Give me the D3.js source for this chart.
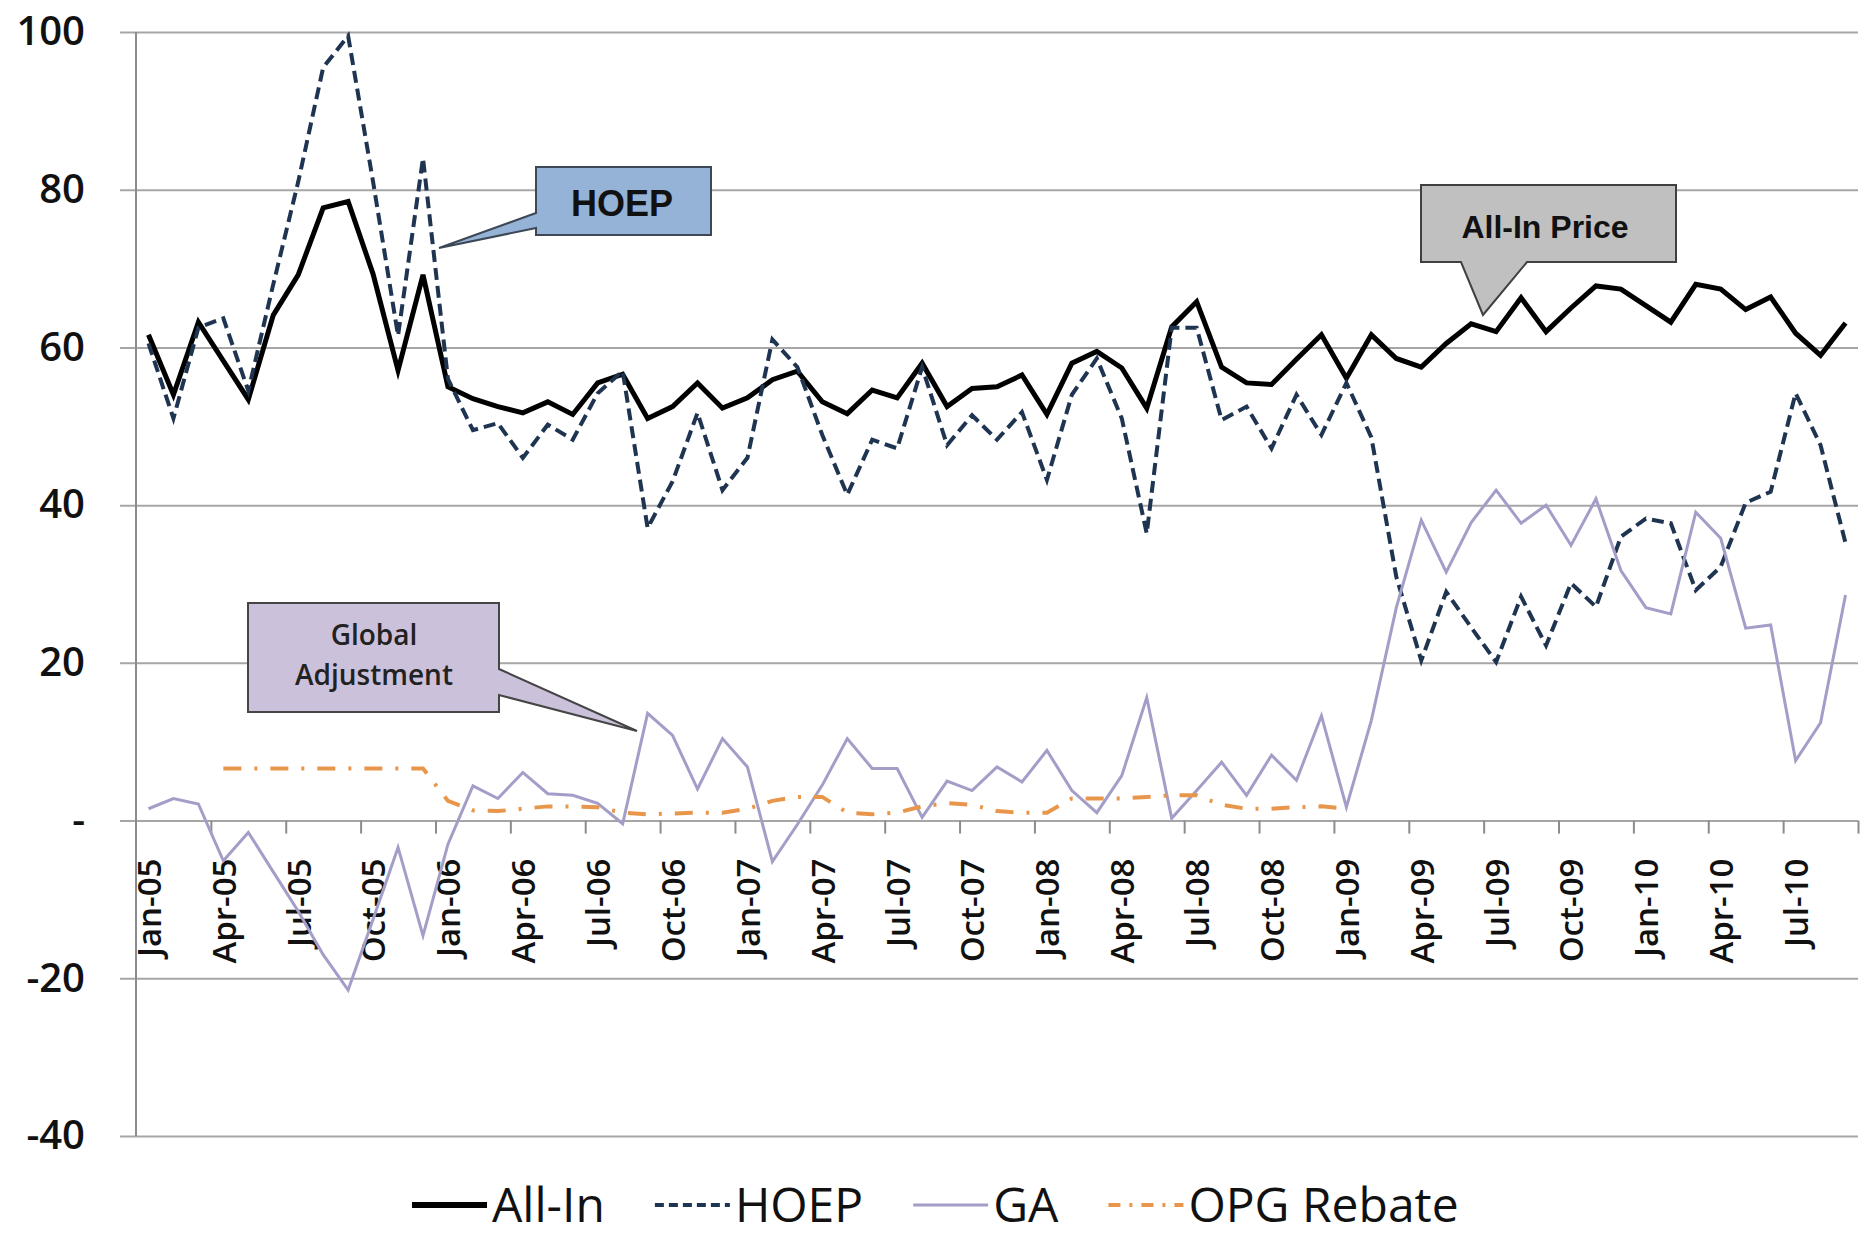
<!DOCTYPE html>
<html>
<head>
<meta charset="utf-8">
<script src="https://cdn.jsdelivr.net/npm/d3@7"></script>
<style>
  body { margin: 0; background: #fff; }
  text { font-family: "Open Sans", sans-serif; }
</style>
</head>
<body>
<div id="chart"></div>
<script>
// Chart data (monthly, Jan-05 .. Sep-10)

var months = ["Jan-05","Feb-05","Mar-05","Apr-05","May-05","Jun-05","Jul-05","Aug-05","Sep-05","Oct-05","Nov-05","Dec-05",
  "Jan-06","Feb-06","Mar-06","Apr-06","May-06","Jun-06","Jul-06","Aug-06","Sep-06","Oct-06","Nov-06","Dec-06",
  "Jan-07","Feb-07","Mar-07","Apr-07","May-07","Jun-07","Jul-07","Aug-07","Sep-07","Oct-07","Nov-07","Dec-07",
  "Jan-08","Feb-08","Mar-08","Apr-08","May-08","Jun-08","Jul-08","Aug-08","Sep-08","Oct-08","Nov-08","Dec-08",
  "Jan-09","Feb-09","Mar-09","Apr-09","May-09","Jun-09","Jul-09","Aug-09","Sep-09","Oct-09","Nov-09","Dec-09",
  "Jan-10","Feb-10","Mar-10","Apr-10","May-10","Jun-10","Jul-10","Aug-10","Sep-10"];

var allIn = [61.6, 54.0, 63.2, 58.3, 53.4, 64.1, 69.2, 77.7, 78.5, 69.3, 57.1, 69.2,
  55.0, 53.5, 52.5, 51.7, 53.1, 51.5, 55.5, 56.6, 51.0, 52.5, 55.5, 52.3,
  53.6, 55.9, 57.0, 53.1, 51.6, 54.6, 53.6, 58.0, 52.5, 54.8, 55.0, 56.5,
  51.5, 58.0, 59.5, 57.4, 52.3, 62.6, 65.8, 57.5, 55.5, 55.3, 58.5, 61.6,
  56.1, 61.6, 58.6, 57.5, 60.5, 63.0, 62.0, 66.3, 62.0, 65.0, 67.8, 67.4,
  65.3, 63.2, 68.0, 67.4, 64.8, 66.4, 61.8, 59.0, 63.1];

var hoep = [60.5, 51, 62.5, 63.7, 54.5, 68, 81, 95.5, 99.5, 81, 61.5, 84,
  56, 49.5, 50.4, 46, 50.2, 48.3, 54.2, 57, 37.1, 43, 51.7, 41.9,
  46, 61, 57.5, 48.9, 41.3, 48.3, 47.2, 57.5, 47.6, 51.4, 48.3, 51.8,
  43.2, 54, 58.6, 51, 36.4, 62.5, 62.5, 50.8, 52.5, 47.2, 54, 48.9,
  55.5, 48.6, 30.9, 20.3, 29, 24.5, 20.1, 28.4, 22.2, 30.1, 27.1, 36,
  38.3, 37.7, 29.2, 32.2, 40.3, 41.7, 54.2, 47.6, 35.2];

var ga = [1.5, 2.8, 2.1, -5.1, -1.5, -6.5, -11.5, -17, -21.5, -12.5, -3.4, -14.6,
  -3, 4.4, 2.8, 6.1, 3.4, 3.2, 2.2, -0.4, 13.6, 10.8, 4, 10.4,
  6.8, -5.2, -0.5, 4.5, 10.4, 6.6, 6.6, 0.4, 5, 3.8, 6.8, 4.9,
  8.9, 3.8, 1, 5.7, 15.6, 0.3, 3.8, 7.4, 3.2, 8.3, 5.1, 13.3,
  1.7, 12.7, 27, 38.1, 31.5, 37.8, 41.9, 37.7, 40, 34.9, 40.8, 31.7,
  27, 26.2, 39.1, 35.8, 24.4, 24.8, 7.6, 12.4, 28.6];

var opgRebate = [null, null, null, 6.6, 6.6, 6.6, 6.6, 6.6, 6.6, 6.6, 6.6, 6.6,
  2.5, 1.3, 1.2, 1.5, 1.8, 1.8, 1.7, 1.0, 0.8, 0.9, 1.0, 1.0,
  1.5, 2.5, 3.0, 3.0, 1.0, 0.8, 1.0, 1.8, 2.2, 2.0, 1.2, 1.0,
  1.0, 2.8, 2.8, 2.8, 3.0, 3.2, 3.2, 2.0, 1.5, 1.5, 1.7, 1.8,
  1.5, null, null, null, null, null, null, null, null, null, null, null,
  null, null, null, null, null, null, null, null, null];

var yTicks = [-40, -20, 0, 20, 40, 60, 80, 100];

var seriesNames = ["All-In", "HOEP", "GA", "OPG Rebate"];

// series styles
var styles = {
  "All-In":     {color: "#000000", width: 5,   dash: null},
  "HOEP":       {color: "#1f3450", width: 4,   dash: "12,6"},
  "GA":         {color: "#a39ec8", width: 3,   dash: null},
  "OPG Rebate": {color: "#e8964c", width: 4,   dash: "18,13,3,13"}
};

var seriesData = {
  "All-In": allIn,
  "HOEP": hoep,
  "GA": ga,
  "OPG Rebate": opgRebate
};

// Margin and SVG initialization
var svgWidth = 1865, svgHeight = 1240;
var margin = {top: 32, right: 7, bottom: 104, left: 136};
var width = svgWidth - margin.left - margin.right;
var height = svgHeight - margin.top - margin.bottom;

var svg = d3.select("#chart")
  .append("svg")
  .attr("width", svgWidth)
  .attr("height", svgHeight)
  .style("background", "#fff");

var chartGroup = svg.append("g")
  .attr("transform", `translate(${margin.left}, ${margin.top})`);

var x = d3.scalePoint()
  .domain(months)
  .range([0, width])
  .padding(0.5);

// category boundaries for tick marks
var xEdges = d3.scaleLinear()
  .domain([0, months.length])
  .range([0, width]);

var y = d3.scaleLinear()
  .domain([-40, 100])
  .range([height, 0]);

// gridlines (extend slightly left of the axis like Excel's outside ticks)
var grid = chartGroup.append("g")
  .attr("transform", "translate(-16,0)")
  .call(d3.axisRight(y).tickValues(yTicks).tickSize(width + 16).tickFormat(""));
grid.select(".domain").remove();
grid.selectAll("line").attr("stroke", "#a6a6a6").attr("stroke-width", 2);

// y labels
var yAxis = chartGroup.append("g")
  .call(d3.axisLeft(y).tickValues(yTicks).tickSize(0).tickPadding(51)
    .tickFormat(d => d === 0 ? "-" : d));
yAxis.select(".domain").remove();
yAxis.selectAll("text")
  .style("font-size", "40px")
  .style("font-weight", 600)
  .attr("fill", "#111");

// y axis line
chartGroup.append("line")
  .attr("x1", 0).attr("x2", 0)
  .attr("y1", 0).attr("y2", height)
  .attr("stroke", "#8c8c8c")
  .attr("stroke-width", 2);

// x tick marks at category boundaries
var tickMarks = chartGroup.append("g")
  .attr("transform", `translate(0, ${y(0)})`)
  .call(d3.axisBottom(xEdges)
    .tickValues(d3.range(3, months.length + 1, 3))
    .tickSize(13).tickFormat(""));
tickMarks.select(".domain").remove();
tickMarks.selectAll("line").attr("stroke", "#8c8c8c").attr("stroke-width", 2);

// x labels, every third month, rotated
var xAxis = chartGroup.append("g")
  .attr("transform", `translate(0, ${y(0)})`)
  .call(d3.axisBottom(x)
    .tickValues(months.filter((d, i) => i % 3 === 0))
    .tickSize(0));
xAxis.select(".domain").remove();
xAxis.selectAll("text")
  .attr("transform", "rotate(-90)")
  .attr("x", -38)
  .attr("y", 0)
  .attr("dy", "0.36em")
  .attr("text-anchor", "end")
  .style("font-size", "33px")
  .style("font-weight", 600)
  .attr("fill", "#111");

// lines
var line = d3.line()
  .defined(d => d.v !== null)
  .x(d => x(d.m))
  .y(d => y(d.v));

seriesNames.forEach(function(name) {
  var vals = seriesData[name].map((v, i) => ({m: months[i], v: v}));
  var st = styles[name];
  chartGroup.append("path")
    .datum(vals)
    .attr("fill", "none")
    .attr("stroke", st.color)
    .attr("stroke-width", st.width)
    .attr("stroke-linejoin", "miter")
    .attr("stroke-dasharray", st.dash)
    .attr("d", line);
});

// callouts (page coordinates)
var callouts = svg.append("g");

callouts.append("path")
  .attr("d", "M536,167 H711 V235 H536 V228 L439,248 L536,213 Z")
  .attr("fill", "#95b3d7")
  .attr("stroke", "#3d4756")
  .attr("stroke-width", 2);
callouts.append("text")
  .attr("x", 622).attr("y", 216)
  .attr("text-anchor", "middle")
  .style("font-family", "'Liberation Sans', Arial, sans-serif")
  .style("font-weight", "bold")
  .style("font-size", "36px")
  .attr("fill", "#111")
  .text("HOEP");

callouts.append("path")
  .attr("d", "M1421,185 H1676 V262 H1527 L1483,315 L1461,262 H1421 Z")
  .attr("fill", "#c0c0c0")
  .attr("stroke", "#404040")
  .attr("stroke-width", 2);
callouts.append("text")
  .attr("x", 1545).attr("y", 238)
  .attr("text-anchor", "middle")
  .style("font-family", "'Liberation Sans', Arial, sans-serif")
  .style("font-weight", "bold")
  .style("font-size", "32px")
  .attr("fill", "#111")
  .text("All-In Price");

callouts.append("path")
  .attr("d", "M248,603 H499 V669 L637,731 L499,695 V712 H248 Z")
  .attr("fill", "#ccc1da")
  .attr("stroke", "#454545")
  .attr("stroke-width", 2);
callouts.append("text")
  .attr("x", 374).attr("y", 645)
  .attr("text-anchor", "middle")
  .style("font-size", "28px")
  .style("font-weight", 600)
  .attr("fill", "#222")
  .text("Global");
callouts.append("text")
  .attr("x", 374).attr("y", 685)
  .attr("text-anchor", "middle")
  .style("font-size", "28px")
  .style("font-weight", 600)
  .attr("fill", "#222")
  .text("Adjustment");

// legend
var legend = svg.append("g");
var lx = 412, ly = 1205;
seriesNames.forEach(function(name) {
  var st = styles[name];
  legend.append("line")
    .attr("x1", lx).attr("x2", lx + 75)
    .attr("y1", ly).attr("y2", ly)
    .attr("stroke", st.color)
    .attr("stroke-width", st.width + (name === "All-In" ? 1 : 0))
    .attr("stroke-dasharray", name === "HOEP" ? "9,5" : (name === "OPG Rebate" ? "12,9,3,9" : null));
  var t = legend.append("text")
    .attr("x", lx + 80).attr("y", ly + 17)
    .style("font-size", "48px")
    .attr("fill", "#111")
    .text(name);
  lx = lx + 80 + t.node().getComputedTextLength() + 50;
});
</script>
</body>
</html>
